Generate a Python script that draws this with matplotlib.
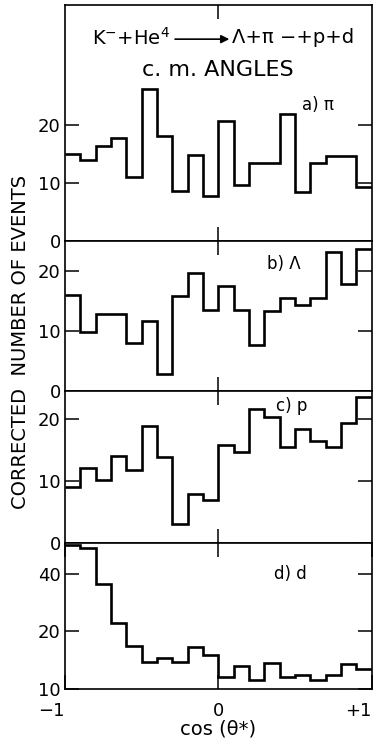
import numpy as np
import matplotlib
matplotlib.use('Agg')
import matplotlib.pyplot as plt

plt.rcParams['font.family'] = ['DejaVu Sans']
plt.rcParams['mathtext.fontset'] = 'dejavusans'

# bin edges in cos(theta*), 20 bins
edges = np.linspace(-1, 1, 21)

# corrected number of events per bin
pi_counts = [15.0, 14.0, 16.3, 17.8, 11.0, 26.2, 18.1, 8.7, 14.9, 7.8,
             20.7, 9.7, 13.5, 13.5, 21.8, 8.5, 13.5, 14.6, 14.6, 9.4]
lam_counts = [16.1, 9.9, 12.8, 12.8, 8.0, 11.7, 2.9, 15.9, 19.7, 13.6,
              17.5, 13.6, 7.7, 13.4, 15.5, 14.3, 15.6, 23.3, 17.9, 23.8]
p_counts = [9.0, 12.1, 10.1, 14.0, 11.8, 18.8, 13.8, 3.1, 7.9, 7.0,
            15.8, 14.6, 21.6, 20.3, 15.5, 18.4, 16.5, 15.5, 19.3, 23.6]
d_counts = [56.5, 54.3, 35.4, 22.2, 16.7, 13.9, 14.6, 13.9, 16.6, 15.1,
            11.5, 13.2, 11.2, 13.6, 11.5, 11.8, 11.1, 11.8, 13.5, 12.7]

panel_labels = ['a) π', 'b) Λ', 'c) p', 'd) d']

fig = plt.figure(figsize=(3.77, 7.44), dpi=100)

left, width = 0.172, 0.814
# (bottom, height) in figure fraction for each panel
boxes = [(0.6755, 0.318), (0.4745, 0.201), (0.2702, 0.2043), (0.0739, 0.1963)]

axes = [fig.add_axes([left, b, width, h]) for b, h in boxes]
ax_a, ax_b, ax_c, ax_d = axes

lw_hist = 1.9
tick_fs = 13

def style(ax):
    for s in ax.spines.values():
        s.set_linewidth(1.2)
    ax.set_xlim(-1, 1)
    ax.set_xticks([0])
    ax.tick_params(axis='both', direction='in', length=10, width=1.1,
                   labelsize=tick_fs, pad=3, top=True, right=True,
                   labelright=False, labeltop=False)
    ax.tick_params(axis='x', labelbottom=False)

# a) pi
ax_a.stairs(pi_counts, edges, color='black', lw=lw_hist, baseline=None)
ax_a.set_ylim(0, 40.6)
style(ax_a)
ax_a.set_yticks([0, 10, 20])

# b) Lambda
ax_b.stairs(lam_counts, edges, color='black', lw=lw_hist, baseline=None)
ax_b.set_ylim(0, 25)
style(ax_b)
ax_b.set_yticks([0, 10, 20])

# c) p
ax_c.stairs(p_counts, edges, color='black', lw=lw_hist, baseline=None)
ax_c.set_ylim(0, 24.5)
style(ax_c)
ax_c.set_yticks([0, 10, 20])

# d) d  (log scale)
ax_d.stairs(d_counts, edges, color='black', lw=lw_hist, baseline=None)
ax_d.set_yscale('log')
ax_d.set_ylim(10, 58)
style(ax_d)
ax_d.set_yticks([10, 20, 40])
ax_d.set_yticklabels(['10', '20', '40'])
ax_d.minorticks_off()
ax_d.set_xticks([-1, 0, 1])
ax_d.set_xticklabels(['−1', '0', '+1'])
ax_d.tick_params(axis='x', labelbottom=True, pad=9)
xt = ax_d.xaxis.get_major_ticks()
xt[0].label1.set_horizontalalignment('right')
xt[2].label1.set_horizontalalignment('right')
ax_d.set_xlabel('cos (θ*)', fontsize=14, labelpad=0)

# panel labels
ax_a.text(0.65, 23.4, panel_labels[0], fontsize=12, ha='center', va='center')
ax_b.text(0.43, 21.2, panel_labels[1], fontsize=12, ha='center', va='center')
ax_c.text(0.48, 22.0, panel_labels[2], fontsize=12, ha='center', va='center')
ax_d.text(0.47, 40, panel_labels[3], fontsize=12, ha='center', va='center')

# reaction title
ax_a.text(0.09, 0.86, r'K$^{-}$+He$^{4}$', transform=ax_a.transAxes,
          fontsize=14, ha='left', va='center')
ax_a.annotate('', xy=(0.545, 0.855), xytext=(0.35, 0.855),
              xycoords='axes fraction',
              arrowprops=dict(arrowstyle='-|>', color='black', lw=1.2,
                              mutation_scale=12))
ax_a.text(0.545, 0.86, 'Λ+π −+p+d', transform=ax_a.transAxes, fontsize=14,
          ha='left', va='center')
ax_a.text(0.5, 0.725, 'c. m. ANGLES', transform=ax_a.transAxes, fontsize=16,
          ha='center', va='center')

fig.text(0.055, 0.54, 'CORRECTED  NUMBER OF EVENTS', rotation=90,
         fontsize=14, ha='center', va='center')

fig.savefig('out.png', dpi=100)
